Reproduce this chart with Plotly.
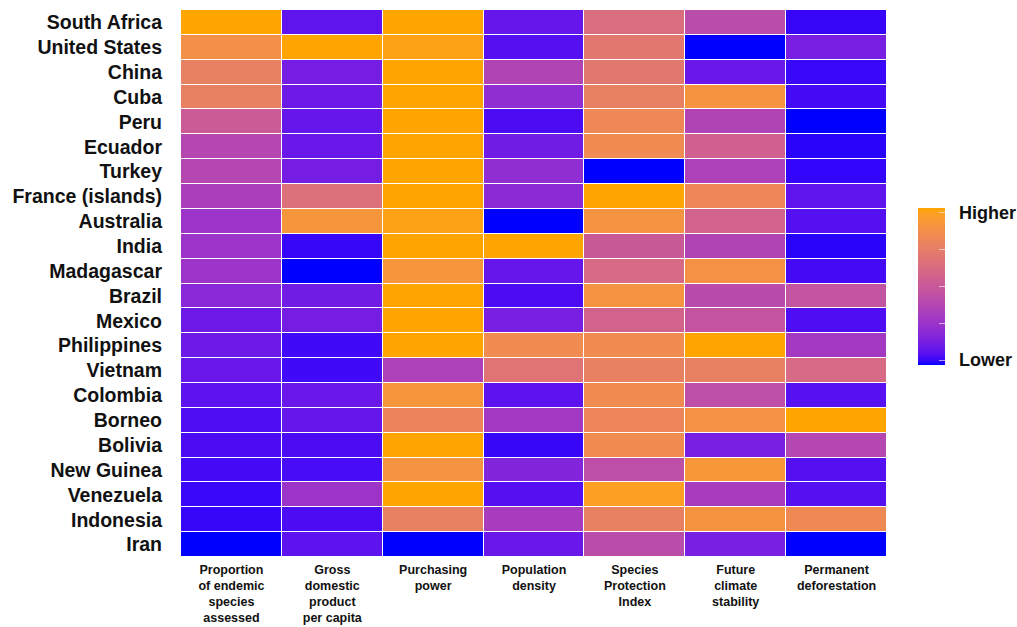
import plotly.graph_objects as go

# Regions (rows, top to bottom) and indicators (columns)
regions = ["South Africa", "United States", "China", "Cuba", "Peru", "Ecuador",
           "Turkey", "France (islands)", "Australia", "India", "Madagascar",
           "Brazil", "Mexico", "Philippines", "Vietnam", "Colombia", "Borneo",
           "Bolivia", "New Guinea", "Venezuela", "Indonesia", "Iran"]

indicators = ["Proportion<br>of endemic<br>species<br>assessed",
              "Gross<br>domestic<br>product<br>per capita",
              "Purchasing<br>power",
              "Population<br>density",
              "Species<br>Protection<br>Index",
              "Future<br>climate<br>stability",
              "Permanent<br>deforestation"]

# Scaled scores (0 = lower, 1 = higher), one list per indicator
endemic_assessed = [1.00, 0.86, 0.76, 0.76, 0.52, 0.39, 0.39, 0.34, 0.27, 0.27, 0.27,
                    0.20, 0.12, 0.12, 0.11, 0.085, 0.06, 0.055, 0.045, 0.035, 0.03, 0.00]
gdp_per_capita = [0.09, 1.00, 0.14, 0.12, 0.10, 0.11, 0.14, 0.65, 0.90, 0.03, 0.00,
                  0.13, 0.14, 0.04, 0.04, 0.11, 0.10, 0.055, 0.05, 0.27, 0.055, 0.085]
purchasing_power = [1.00, 0.98, 1.00, 1.00, 1.00, 1.00, 1.00, 1.00, 0.98, 1.00, 0.90,
                    1.00, 1.00, 1.00, 0.35, 0.90, 0.78, 1.00, 0.88, 1.00, 0.76, 0.00]
population_density = [0.10, 0.07, 0.37, 0.23, 0.055, 0.13, 0.23, 0.21, 0.00, 1.00, 0.10,
                      0.055, 0.15, 0.83, 0.68, 0.085, 0.30, 0.03, 0.18, 0.07, 0.32, 0.11]
protection_index = [0.63, 0.70, 0.70, 0.76, 0.81, 0.83, 0.00, 1.00, 0.88, 0.51, 0.61,
                    0.88, 0.57, 0.83, 0.76, 0.83, 0.79, 0.83, 0.44, 0.96, 0.76, 0.42]
climate_stability = [0.42, 0.00, 0.11, 0.89, 0.37, 0.55, 0.35, 0.80, 0.57, 0.37, 0.87,
                     0.41, 0.47, 1.00, 0.76, 0.44, 0.87, 0.15, 0.91, 0.32, 0.89, 0.15]
deforestation = [0.03, 0.15, 0.035, 0.045, 0.00, 0.02, 0.025, 0.09, 0.07, 0.02, 0.045,
                 0.47, 0.06, 0.30, 0.61, 0.075, 1.00, 0.39, 0.07, 0.07, 0.82, 0.00]

columns = [endemic_assessed, gdp_per_capita, purchasing_power, population_density,
           protection_index, climate_stability, deforestation]
z = [[col[i] for col in columns] for i in range(len(regions))]


# Blue -> orange gradient interpolated in CIELAB space
def srgb_to_lab(rgb):
    def lin(c):
        c = c / 255.0
        return c / 12.92 if c <= 0.04045 else ((c + 0.055) / 1.055) ** 2.4
    r, g, b = (lin(c) for c in rgb)
    x = (0.4124 * r + 0.3576 * g + 0.1805 * b) / 0.95047
    y = (0.2126 * r + 0.7152 * g + 0.0722 * b)
    zz = (0.0193 * r + 0.1192 * g + 0.9505 * b) / 1.08883

    def f(t):
        return t ** (1 / 3) if t > 0.008856 else 7.787 * t + 16 / 116
    fx, fy, fz = f(x), f(y), f(zz)
    return (116 * fy - 16, 500 * (fx - fy), 200 * (fy - fz))


def lab_to_srgb(lab):
    L, a, b = lab
    fy = (L + 16) / 116
    fx = fy + a / 500
    fz = fy - b / 200

    def finv(t):
        return t ** 3 if t ** 3 > 0.008856 else (t - 16 / 116) / 7.787
    x, y, zz = finv(fx) * 0.95047, finv(fy), finv(fz) * 1.08883
    r = 3.2406 * x - 1.5372 * y - 0.4986 * zz
    g = -0.9689 * x + 1.8758 * y + 0.0415 * zz
    bb = 0.0557 * x - 0.2040 * y + 1.0570 * zz

    def gam(c):
        c = max(0.0, min(1.0, c))
        v = 12.92 * c if c <= 0.0031308 else 1.055 * c ** (1 / 2.4) - 0.055
        return int(round(max(0, min(1, v)) * 255))
    return gam(r), gam(g), gam(bb)


low_lab = srgb_to_lab((0, 0, 255))
high_lab = srgb_to_lab((255, 165, 0))
n_stops = 41
colorscale = []
for k in range(n_stops):
    t = k / (n_stops - 1)
    lab = tuple(lo + (hi - lo) * t for lo, hi in zip(low_lab, high_lab))
    r, g, b = lab_to_srgb(lab)
    colorscale.append([t, f"rgb({r},{g},{b})"])

label_font = "Liberation Sans"
pad = "\u00a0\u00a0"

fig = go.Figure(go.Heatmap(
    z=z,
    x=indicators,
    y=regions,
    zmin=0, zmax=1,
    colorscale=colorscale,
    xgap=1, ygap=1,
    hovertemplate="%{y}<br>%{x}<br>%{z:.2f}<extra></extra>",
    colorbar=dict(
        x=1.044, xanchor="left", xpad=0,
        y=0.495, yanchor="middle", ypad=0,
        lenmode="pixels", len=157,
        thickness=27,
        outlinewidth=0,
        tickvals=[0.03, 0.265, 0.5, 0.735, 0.97],
        ticktext=[f"{pad}<b>Lower</b>", "", "", "", f"{pad}<b>Higher</b>"],
        ticks="inside", ticklen=6, tickcolor="rgba(255,255,255,0.6)",
        tickfont=dict(family=label_font, size=18, color="#111111"),
    ),
))

fig.update_yaxes(autorange="reversed", showgrid=False, zeroline=False,
                 automargin=False, ticklabelstandoff=18,
                 tickvals=regions, ticktext=[f"<b>{r}</b>" for r in regions],
                 tickfont=dict(family=label_font, size=19.5, color="#111111"))
fig.update_xaxes(showgrid=False, zeroline=False, side="bottom",
                 automargin=False, ticklabelstandoff=3,
                 tickvals=indicators, ticktext=[f"<b>{c}</b>" for c in indicators],
                 tickfont=dict(family=label_font, size=12.5, color="#111111"))

fig.update_layout(
    width=1017, height=627,
    margin=dict(l=181, r=130, t=10, b=70, autoexpand=False),
    paper_bgcolor="white", plot_bgcolor="white",
    font=dict(family=label_font, color="#111111"),
)

fig.write_html("out.html")
